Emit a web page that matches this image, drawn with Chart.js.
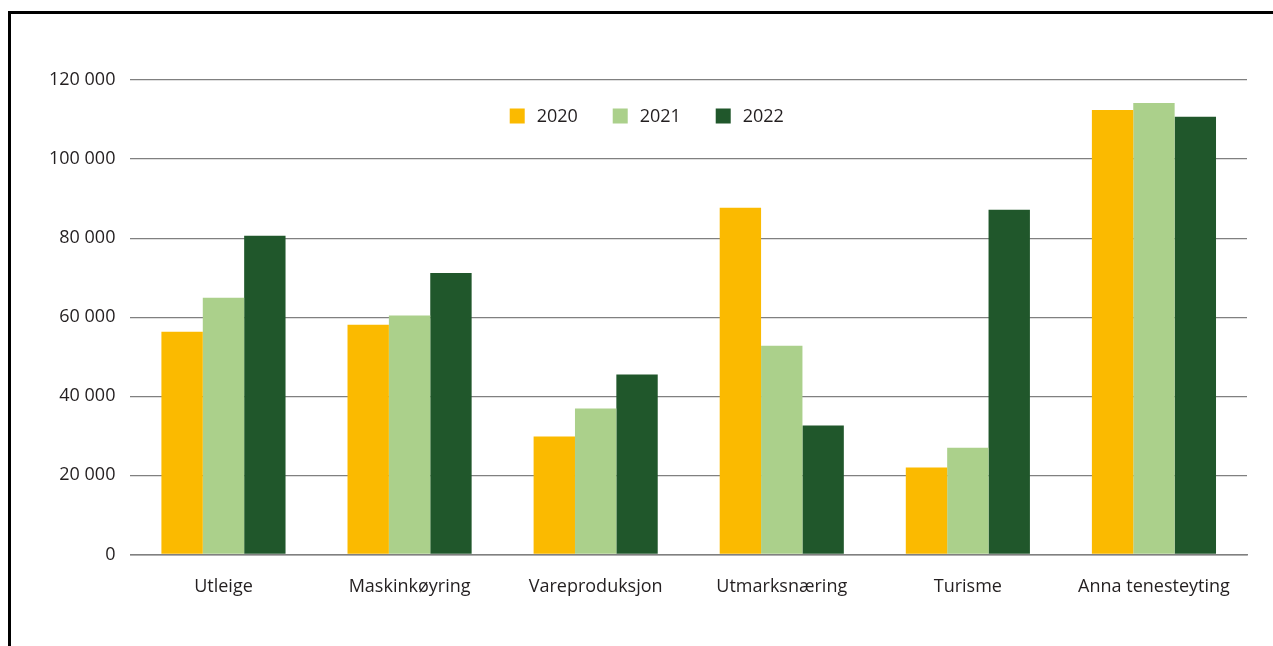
<!DOCTYPE html>
<html>
<head>
<meta charset="utf-8">
<script src="https://cdn.jsdelivr.net/npm/chart.js@4"></script>
<style>
	html, body { margin: 0; padding: 0; background: #fff; }
	#frame {
		position: absolute;
		left: 8px;
		top: 11px;
		width: 1280px;
		height: 700px;
		border-left: 3px solid #000;
		border-top: 3px solid #000;
	}
	#wrap { position: absolute; left: 0; top: 0; width: 1273px; height: 646px; }
</style>
</head>
<body>
<div id="frame"></div>
<div id="wrap"><canvas id="chart"></canvas></div>
<script>
const categories = ['Utleige', 'Maskinkøyring', 'Vareproduksjon', 'Utmarksnæring', 'Turisme', 'Anna tenesteyting'];
const seriesLabels = ['2020', '2021', '2022'];
const values2020 = [56300, 58100, 29800, 87700, 22000, 112400];
const values2021 = [64900, 60400, 36900, 52800, 27000, 114200];
const values2022 = [80600, 71200, 45500, 32600, 87200, 110700];
const seriesColors = ['#fbba00', '#abd08b', '#20572b'];

const textColor = '#231f20';
const fontFamily = '"Open Sans", sans-serif';
const fontSize = 18;

const dataset = (label, data, color) => ({
	label,
	data,
	backgroundColor: color,
	borderWidth: 0,
	categoryPercentage: 0.667,
	barPercentage: 1.0,
});

const formatNumber = (v) => String(v).replace(/\B(?=(\d{3})+(?!\d))/g, ' ');

// legend drawn inside the plot, in a single row under the top gridline
const insideLegend = {
	id: 'insideLegend',
	afterDraw(chart) {
		const { ctx, chartArea } = chart;
		const box = 15;
		const step = 103;
		const y = chartArea.top + 36;
		const startX = (chartArea.left + chartArea.right) / 2 - 179;
		ctx.save();
		ctx.font = `${fontSize}px ${fontFamily}`;
		ctx.textBaseline = 'middle';
		chart.data.datasets.forEach((ds, i) => {
			const x = startX + i * step;
			ctx.fillStyle = ds.backgroundColor;
			ctx.fillRect(x, y - box / 2, box, box);
			ctx.fillStyle = textColor;
			ctx.fillText(ds.label, x + box + 12, y + 1);
		});
		ctx.restore();
	},
};

new Chart(document.getElementById('chart'), {
	type: 'bar',
	data: {
		labels: categories,
		datasets: [
			dataset(seriesLabels[0], values2020, seriesColors[0]),
			dataset(seriesLabels[1], values2021, seriesColors[1]),
			dataset(seriesLabels[2], values2022, seriesColors[2]),
		],
	},
	options: {
		responsive: true,
		maintainAspectRatio: false,
		animation: false,
		layout: {
			padding: { left: 34, right: 26, top: 80, bottom: 26 },
		},
		plugins: {
			legend: { display: false },
			tooltip: { enabled: false },
		},
		scales: {
			x: {
				grid: { display: false, drawTicks: false },
				border: { display: true, color: '#808080', width: 1.5 },
				ticks: {
					padding: 22,
					color: textColor,
					font: { family: fontFamily, size: fontSize },
				},
			},
			y: {
				min: 0,
				max: 120000,
				grid: { color: '#808080', lineWidth: 1.2, drawTicks: false },
				border: { display: false },
				ticks: {
					stepSize: 20000,
					padding: 15,
					color: textColor,
					font: { family: fontFamily, size: fontSize },
					callback: (v) => formatNumber(v),
				},
			},
		},
	},
	plugins: [insideLegend],
});
</script>
</body>
</html>
